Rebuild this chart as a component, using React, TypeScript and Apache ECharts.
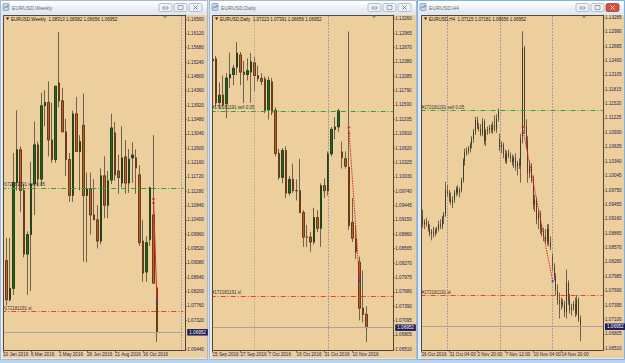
import React, { useEffect, useRef } from "react";
import * as echarts from "echarts";

// ---------------- DATA ----------------
const SYMBOL = "EURUSD";
const bidPrice = 1.06952;
const sellPrice = 1.11376;
const slPrice = 1.0759;
const ticket = "#172181191";
const lots = "0.05";

const weeklyCategories = [
  "10 Jan 2016","17 Jan 2016","24 Jan 2016","31 Jan 2016","7 Feb 2016","14 Feb 2016","21 Feb 2016","28 Feb 2016",
  "6 Mar 2016","13 Mar 2016","20 Mar 2016","27 Mar 2016","3 Apr 2016","10 Apr 2016","17 Apr 2016","24 Apr 2016",
  "1 May 2016","8 May 2016","15 May 2016","22 May 2016","29 May 2016","5 Jun 2016","12 Jun 2016","19 Jun 2016",
  "26 Jun 2016","3 Jul 2016","10 Jul 2016","17 Jul 2016","24 Jul 2016","31 Jul 2016","7 Aug 2016","14 Aug 2016",
  "21 Aug 2016","28 Aug 2016","4 Sep 2016","11 Sep 2016","18 Sep 2016","25 Sep 2016","2 Oct 2016","9 Oct 2016",
  "16 Oct 2016","23 Oct 2016","30 Oct 2016","6 Nov 2016","13 Nov 2016"
];
// [open, high, low, close]
const weeklyOHLC = [
  [1.0920,1.0993,1.0805,1.0915],[1.0915,1.0985,1.0778,1.0795],[1.0795,1.0985,1.0790,1.0830],[1.0830,1.1245,1.0810,1.1155],
  [1.1155,1.1376,1.1130,1.1255],[1.1255,1.1265,1.1065,1.1130],[1.1130,1.1150,1.0925,1.0935],[1.0935,1.1005,1.0810,1.0995],
  [1.0995,1.1218,1.0822,1.1150],[1.1150,1.1342,1.1055,1.1270],[1.1270,1.1280,1.1143,1.1165],[1.1165,1.1430,1.1145,1.1390],
  [1.1390,1.1438,1.1327,1.1400],[1.1400,1.1465,1.1235,1.1285],[1.1285,1.1399,1.1215,1.1225],[1.1225,1.1450,1.1215,1.1450],
  [1.1460,1.1616,1.1385,1.1405],[1.1405,1.1445,1.1310,1.1310],[1.1310,1.1350,1.1175,1.1225],[1.1225,1.1245,1.1095,1.1115],
  [1.1115,1.1375,1.1095,1.1365],[1.1365,1.1417,1.1250,1.1250],[1.1250,1.1300,1.1130,1.1280],[1.1330,1.1427,1.0912,1.1115],
  [1.1115,1.1185,1.0910,1.1135],[1.1135,1.1185,1.0995,1.1055],[1.1055,1.1165,1.1040,1.1040],[1.1040,1.1085,1.0952,1.0975],
  [1.0975,1.1198,1.0965,1.1175],[1.1175,1.1235,1.1045,1.1085],[1.1085,1.1190,1.1045,1.1160],[1.1162,1.1366,1.1150,1.1322],
  [1.1307,1.1340,1.1160,1.1178],[1.1190,1.1240,1.1120,1.1170],[1.1153,1.1327,1.1140,1.1230],[1.1233,1.1285,1.1120,1.1153],
  [1.1153,1.1257,1.1123,1.1226],[1.1230,1.1278,1.1154,1.1239],[1.1230,1.1256,1.1120,1.1199],[1.1178,1.1208,1.0960,1.0970],
  [1.0975,1.1040,1.0850,1.0877],[1.0880,1.0990,1.0850,1.0970],[1.0980,1.1142,1.0960,1.1138],[1.1055,1.1300,1.0845,1.0846],
  [1.08313,1.08382,1.06656,1.06952]
];
const weeklyPriceTicks = ["1.16560","1.16120","1.15680","1.15240","1.14800","1.14360","1.13920","1.13480","1.13040","1.12600","1.12160","1.11720","1.11280","1.10840","1.10400","1.09960","1.09520","1.09080","1.08640","1.08200","1.07760","1.07320","1.06440"];
const weeklySeparators = [51];
const weeklyTrade = [[43, 1.1098], [44, 1.0791]];

const dailyCategories = [
  "15 Sep 2016","16 Sep 2016","19 Sep 2016","20 Sep 2016","21 Sep 2016","22 Sep 2016","23 Sep 2016","26 Sep 2016",
  "27 Sep 2016","28 Sep 2016","29 Sep 2016","30 Sep 2016","3 Oct 2016","4 Oct 2016","5 Oct 2016","6 Oct 2016",
  "7 Oct 2016","10 Oct 2016","11 Oct 2016","12 Oct 2016","13 Oct 2016","14 Oct 2016","17 Oct 2016","18 Oct 2016",
  "19 Oct 2016","20 Oct 2016","21 Oct 2016","24 Oct 2016","25 Oct 2016","26 Oct 2016","27 Oct 2016","28 Oct 2016",
  "31 Oct 2016","1 Nov 2016","2 Nov 2016","3 Nov 2016","4 Nov 2016","7 Nov 2016","8 Nov 2016","9 Nov 2016",
  "10 Nov 2016","11 Nov 2016","14 Nov 2016","15 Nov 2016","16 Nov 2016"
];
const dailyOHLC = [
  [1.1240,1.1279,1.1200,1.1243],[1.1244,1.1250,1.1146,1.1154],[1.1155,1.1196,1.1142,1.1170],[1.1170,1.1210,1.1145,1.1150],
  [1.1152,1.1215,1.1123,1.1205],[1.1205,1.1257,1.1185,1.1212],[1.1212,1.1232,1.1190,1.1225],[1.1227,1.1278,1.1211,1.1256],
  [1.1252,1.1258,1.1190,1.1217],[1.1217,1.1240,1.1154,1.1212],[1.1212,1.1245,1.1200,1.1220],[1.1217,1.1256,1.1154,1.1238],
  [1.1236,1.1248,1.1178,1.1210],[1.1210,1.1230,1.1198,1.1204],[1.1204,1.1215,1.1190,1.1198],[1.1203,1.1208,1.1133,1.1139],
  [1.1140,1.1208,1.1120,1.1200],[1.1197,1.1205,1.1129,1.1135],[1.1139,1.1145,1.1045,1.1051],[1.1051,1.1060,1.0997,1.1002],
  [1.1002,1.1062,1.0990,1.1057],[1.1057,1.1065,1.0960,1.0970],[1.0970,1.1005,1.0965,1.0998],[1.0998,1.1030,1.0970,1.0975],
  [1.0975,1.0998,1.0955,1.0975],[1.0975,1.1040,1.0930,1.0930],[1.0930,1.0935,1.0860,1.0880],[1.0880,1.0905,1.0860,1.0880],
  [1.0880,1.0890,1.0850,1.0870],[1.0870,1.0940,1.0865,1.0920],[1.0920,1.0935,1.0890,1.0898],[1.0898,1.0990,1.0860,1.0985],
  [1.0985,1.1000,1.0960,1.0975],[1.0975,1.1055,1.0965,1.1050],[1.1050,1.1105,1.1045,1.1100],[1.1100,1.1125,1.1080,1.1105],
  [1.1105,1.1142,1.1095,1.1138],[1.1054,1.1075,1.1020,1.1042],[1.1040,1.1055,1.1020,1.1025],[1.1023,1.1300,1.0895,1.0904],
  [1.0910,1.0960,1.0870,1.0878],[1.0876,1.0905,1.0835,1.0850],[1.0829,1.0840,1.0710,1.0735],[1.0735,1.0812,1.0706,1.0722],
  [1.07223,1.07391,1.06656,1.06952]
];
const dailyPriceTicks = ["1.13260","1.12965","1.12670","1.12380","1.12085","1.11790","1.11500","1.11205","1.10910","1.10620","1.10325","1.10030","1.09740","1.09445","1.09150","1.08860","1.08565","1.08270","1.07975","1.07680","1.07390","1.07095","1.06805","1.06510"];
const dailySeparators = [12, 33];
const dailyTrade = [[39, 1.1098], [42, 1.0791]];

const h4Days = ["26 Oct","27 Oct","28 Oct","31 Oct","1 Nov","2 Nov","3 Nov","4 Nov","7 Nov","8 Nov","9 Nov","10 Nov","11 Nov","14 Nov","15 Nov","16 Nov"];
const h4Hours = ["00:00","04:00","08:00","12:00","16:00","20:00"];
const h4FirstLabel = "26 Oct 2016";
const h4OHLC = [
  [1.0915,1.0925,1.0905,1.0920],[1.0920,1.0935,1.0898,1.0905],[1.0905,1.0915,1.0895,1.0910],[1.0910,1.0918,1.0900,1.0905],
  [1.0905,1.0912,1.0890,1.0895],[1.0895,1.0905,1.0880,1.0885],[1.0885,1.0895,1.0872,1.0890],[1.0890,1.0900,1.0878,1.0885],
  [1.0885,1.0897,1.0880,1.0892],[1.0892,1.0900,1.0886,1.0895],[1.0895,1.0912,1.0890,1.0905],[1.0905,1.0915,1.0895,1.0900],
  [1.0900,1.0922,1.0895,1.0918],[1.0918,1.0930,1.0905,1.0925],[1.0925,1.0992,1.0920,1.0975],[1.0975,1.0985,1.0962,1.0968],
  [1.0968,1.0975,1.0950,1.0958],[1.0958,1.0970,1.0945,1.0950],[1.0950,1.0962,1.0938,1.0955],[1.0955,1.0975,1.0948,1.0970],
  [1.0970,1.0982,1.0962,1.0978],[1.0978,1.0985,1.0965,1.0970],[1.0970,1.0980,1.0960,1.0975],[1.0975,1.1000,1.0970,1.0995],
  [1.0995,1.1040,1.0990,1.1035],[1.1035,1.1060,1.1025,1.1052],[1.1052,1.1062,1.1045,1.1055],[1.1055,1.1065,1.1048,1.1060],
  [1.1060,1.1072,1.1052,1.1068],[1.1068,1.1085,1.1060,1.1080],[1.1080,1.1100,1.1072,1.1095],[1.1095,1.1125,1.1088,1.1118],
  [1.1118,1.1125,1.1100,1.1105],[1.1105,1.1112,1.1095,1.1100],[1.1100,1.1110,1.1085,1.1090],[1.1090,1.1122,1.1085,1.1115],
  [1.1115,1.1120,1.1068,1.1075],[1.1075,1.1100,1.1065,1.1095],[1.1095,1.1105,1.1088,1.1098],[1.1098,1.1108,1.1090,1.1102],
  [1.1102,1.1110,1.1092,1.1098],[1.1098,1.1115,1.1090,1.1108],[1.1108,1.1128,1.1095,1.1100],[1.1100,1.1130,1.1092,1.1122],
  [1.1122,1.1142,1.1115,1.1138],[1.1080,1.1090,1.1055,1.1062],[1.1062,1.1075,1.1050,1.1068],[1.1068,1.1072,1.1040,1.1048],
  [1.1048,1.1058,1.1030,1.1035],[1.1035,1.1055,1.1028,1.1050],[1.1050,1.1058,1.1040,1.1045],[1.1045,1.1052,1.1032,1.1040],
  [1.1040,1.1048,1.1025,1.1032],[1.1032,1.1045,1.1020,1.1040],[1.1040,1.1050,1.1015,1.1022],[1.1022,1.1035,1.1005,1.1030],
  [1.1030,1.1040,1.1018,1.1025],[1.1025,1.1090,1.0990,1.1080],[1.1085,1.1300,1.1070,1.1265],[1.1265,1.1270,1.1090,1.1105],
  [1.1105,1.1120,1.1060,1.1075],[1.1075,1.1085,1.0990,1.1010],[1.1010,1.1035,1.1000,1.1025],[1.1025,1.1030,1.0990,1.0998],
  [1.0998,1.1005,1.0935,1.0945],[1.0945,1.0965,1.0930,1.0955],[1.0955,1.0960,1.0905,1.0915],[1.0915,1.0935,1.0895,1.0925],
  [1.0925,1.0932,1.0885,1.0895],[1.0895,1.0905,1.0880,1.0890],[1.0890,1.0898,1.0870,1.0880],[1.0880,1.0895,1.0865,1.0870],
  [1.0870,1.0905,1.0862,1.0895],[1.0895,1.0905,1.0860,1.0868],[1.0868,1.0880,1.0852,1.0858],[1.0840,1.0845,1.0810,1.0818],
  [1.0818,1.0825,1.0790,1.0798],[1.0798,1.0805,1.0760,1.0770],[1.0770,1.0782,1.0740,1.0750],[1.0750,1.0765,1.0712,1.0742],
  [1.0742,1.0755,1.0730,1.0745],[1.0745,1.0752,1.0735,1.0740],[1.0740,1.0748,1.0715,1.0725],[1.0725,1.0812,1.0712,1.0785],
  [1.0785,1.0790,1.0740,1.0750],[1.0750,1.0762,1.0722,1.0730],[1.0730,1.0742,1.0718,1.0735],[1.0735,1.0748,1.0728,1.0742],
  [1.0742,1.0755,1.0715,1.0722],[1.0722,1.0760,1.0718,1.0750],[1.0750,1.0755,1.0705,1.07115],[1.07115,1.07181,1.06656,1.06952]
];
const h4Categories = h4Days.flatMap((d) => h4Hours.map((h) => `${d} ${h}`)).slice(3, 3 + h4OHLC.length);
const h4PriceTicks = ["1.13285","1.12990","1.12695","1.12400","1.12105","1.11815","1.11520","1.11225","1.10930","1.10635","1.10340","1.10045","1.09750","1.09455","1.09160","1.08865","1.08570","1.08280","1.07985","1.07690","1.07395","1.07100","1.06805","1.06510"];
const h4Separators = [15, 45, 75];
const h4Trade = [[58, 1.1098], [75, 1.0788]];

// ---------------- STYLE ----------------
const FONT = "Liberation Sans, Arial, sans-serif";
const TAN = "#EDCF9E";
const BULL = "#1C6B1C";
const BULL_B = "#0D2B0D";
const BEAR = "#B5612B";
const BEAR_B = "#4B2209";
const WICK = "#6F6350";
const AXIS = "#4F4636";
const LABEL = "#22224A";

type Panel = {
  title: string;
  cats: string[];
  ohlc: number[][];
  ticks: string[];
  slots: number;
  labelEvery: number;
  firstLabel?: string;
  grid: { left: number; top: number; width: number; height: number };
  yMin: number;
  yMax: number;
  bodyW: number;
  axisOffset: number;
  separators: number[];
  sepColors: string[];
  trade: number[][];
  win: { x0: number; x1: number; plotL: number; plotR: number; shiftX: number; active: boolean };
};

const panels: Panel[] = [
  {
    title: `${SYMBOL},Weekly`, cats: weeklyCategories, ohlc: weeklyOHLC, ticks: weeklyPriceTicks, slots: 52, labelEvery: 8,
    grid: { left: 1.25, top: 15, width: 182, height: 335.5 },
    yMin: 1.06394, yMax: 1.166827, bodyW: 2.3, axisOffset: 2,
    separators: weeklySeparators, sepColors: ["#6B63A8"], trade: weeklyTrade,
    win: { x0: 0, x1: 208, plotL: 3, plotR: 185.3, shiftX: 165, active: false },
  },
  {
    title: `${SYMBOL},Daily`, cats: dailyCategories, ohlc: dailyOHLC, ticks: dailyPriceTicks, slots: 52, labelEvery: 8,
    grid: { left: 210.75, top: 15, width: 182, height: 335.5 },
    yMin: 1.064855, yMax: 1.133355, bodyW: 2.4, axisOffset: 0.5,
    separators: dailySeparators, sepColors: ["#9C968C", "#6B63A8"], trade: dailyTrade,
    win: { x0: 209, x1: 417, plotL: 212, plotR: 393.3, shiftX: 374, active: false },
  },
  {
    title: `${SYMBOL},H4`, cats: h4Categories, ohlc: h4OHLC, ticks: h4PriceTicks, slots: 104, labelEvery: 16, firstLabel: h4FirstLabel,
    grid: { left: 420.6, top: 15, width: 182, height: 335.5 },
    yMin: 1.06465, yMax: 1.133321, bodyW: 1.2, axisOffset: 0.4,
    separators: h4Separators, sepColors: ["#6B63A8", "#6B63A8", "#6B63A8"], trade: h4Trade,
    win: { x0: 417, x1: 625, plotL: 421, plotR: 603, shiftX: 584, active: true },
  },
];

function fmt(v: number) {
  return v.toFixed(5);
}

function buildOption() {
  const grids: any[] = [];
  const xAxes: any[] = [];
  const yAxes: any[] = [];
  const series: any[] = [];
  const graphics: any[] = [];

  graphics.push({ type: "rect", shape: { x: 0, y: 0, width: 625, height: 363 }, style: { fill: "#D3DDE9" }, z: -20, silent: true });

  panels.forEach((p, g) => {
    const n = p.ohlc.length;
    const cats = p.cats.slice(0, n).concat(Array.from({ length: p.slots - n }, (_, i) => `pad${i}`));
    grids.push({ ...p.grid, containLabel: false });
    xAxes.push({
      type: "category", gridIndex: g, data: cats, boundaryGap: true,
      axisLine: { show: false },
      axisTick: { show: true, alignWithLabel: true, length: 2, lineStyle: { color: AXIS, width: 0.8 }, interval: (i: number) => i % p.labelEvery === 0 && i < n },
      axisLabel: {
        show: true, interval: (i: number) => i % p.labelEvery === 0 && i < n, align: "left", margin: 1.5,
        fontSize: 4.6, fontFamily: FONT, color: LABEL,
        formatter: (v: string, i: number) => (i === 0 && p.firstLabel ? p.firstLabel : v),
      },
      splitLine: { show: false },
    });
    const tickVals = p.ticks.map((t) => parseFloat(t));
    yAxes.push({
      type: "value", gridIndex: g, position: "right", min: p.yMin, max: p.yMax, offset: p.axisOffset,
      axisLine: { show: true, lineStyle: { color: AXIS, width: 1 } },
      axisTick: { show: true, length: 1.5, lineStyle: { color: AXIS, width: 0.8 }, customValues: tickVals },
      axisLabel: { show: true, margin: 2, fontSize: 4.6, fontFamily: FONT, color: LABEL, customValues: tickVals, formatter: (v: number) => fmt(v) },
      splitLine: { show: false },
    });

    const wick = p.ohlc.map(([o, h, l, c]) => [o, c, l, h]);
    const body = p.ohlc.map(([o, , , c]) => [o, c, Math.min(o, c), Math.max(o, c)]);
    const ls = (color: string) => ({ color, width: 1, type: [5, 2, 1, 2] });
    series.push({
      type: "candlestick", xAxisIndex: g, yAxisIndex: g, data: wick, barWidth: p.bodyW, z: 2,
      itemStyle: { color: "rgba(0,0,0,0)", color0: "rgba(0,0,0,0)", borderColor: WICK, borderColor0: WICK, borderColorDoji: WICK, borderWidth: 1 },
      markLine: {
        silent: true, symbol: ["none", "none"], animation: false, precision: 5,
        data: [
          ...p.separators.map((s, k) => ({ xAxis: s, lineStyle: { color: p.sepColors[k], width: 1, type: [1, 2] }, label: { show: false } })),
          { yAxis: bidPrice, lineStyle: { color: "#A9A49A", width: 1, type: "solid" },
            label: { show: true, position: "end", distance: 2 + p.axisOffset, formatter: fmt(bidPrice), color: "#FFFFFF", backgroundColor: "#1D1D58", padding: [1, 2, 0.5, 2], fontSize: 4.6, fontFamily: FONT } },
          { yAxis: sellPrice, lineStyle: ls("#2EA52E"),
            label: { show: true, position: "insideStartTop", distance: [1, 1], formatter: `${ticket} sell ${lots}`, color: "#333333", fontSize: 4.5, fontFamily: FONT } },
          { yAxis: slPrice, lineStyle: ls("#F23E1C"),
            label: { show: true, position: "insideStartTop", distance: [1, 1], formatter: `${ticket} sl`, color: "#333333", fontSize: 4.5, fontFamily: FONT } },
        ],
      },
    });
    series.push({
      type: "candlestick", xAxisIndex: g, yAxisIndex: g, data: body, barWidth: p.bodyW, z: 3,
      itemStyle: { color: BULL, color0: BEAR, borderColor: BULL_B, borderColor0: BEAR_B, borderColorDoji: BEAR_B, borderWidth: 0.6 },
    });
    series.push({
      type: "line", xAxisIndex: g, yAxisIndex: g, data: p.trade, symbol: "none", z: 4,
      lineStyle: { color: "#E02020", width: 1, type: g === 0 ? "solid" : [1.5, 1] },
    });
    series.push({
      type: "scatter", xAxisIndex: g, yAxisIndex: g, z: 5, symbol: "rect", symbolSize: [2.6, 1.8],
      data: [[p.trade[0][0], p.trade[0][1] + 0.0006], [p.trade[0][0], p.trade[0][1] - 0.0006]],
      itemStyle: { color: "#E51B1B" },
    });
    series.push({
      type: "scatter", xAxisIndex: g, yAxisIndex: g, z: 5, symbol: "rect", symbolSize: [2.2, 2.2],
      data: [p.trade[1]], itemStyle: { color: "#2F3DE0" },
    });

    // ---- window chrome ----
    const w = p.win;
    const grad = { type: "linear", x: 0, y: 0, x2: 0, y2: 1, colorStops: [{ offset: 0, color: "#FFFFFF" }, { offset: 1, color: "#DCE5F0" }] };
    graphics.push(
      { type: "rect", shape: { x: w.x0 + 0.5, y: 0.5, width: w.x1 - w.x0 - 1, height: 359 }, style: { fill: "#E3EAF3", stroke: w.active ? "#7DB3E3" : "#A9B8CA", lineWidth: 1 }, z: -10, silent: true },
      { type: "rect", shape: { x: w.x0 + 1, y: 1, width: w.x1 - w.x0 - 2, height: 13 }, style: { fill: grad }, z: -9, silent: true },
      { type: "rect", shape: { x: w.plotL, y: 15, width: w.x1 - 1 - w.plotL, height: 343 }, style: { fill: TAN }, z: -8, silent: true },
      { type: "rect", shape: { x: w.x0 + 3, y: 3.5, width: 6, height: 7, r: 1 }, style: { fill: "#C9D7E6", stroke: "#6E8FB4", lineWidth: 0.7 }, z: 10, silent: true },
      { type: "polyline", shape: { points: [[w.x0 + 4, 8.5], [w.x0 + 5.5, 6.5], [w.x0 + 7, 7.5], [w.x0 + 8.3, 5]] }, style: { stroke: "#2E6DB0", lineWidth: 0.7, fill: null }, z: 10, silent: true },
      { type: "text", x: w.x0 + 12, y: 7.8, style: { text: p.title, fontSize: 5.2, fontFamily: FONT, fill: "#6C6C6C", verticalAlign: "middle" }, z: 10, silent: true },
    );
    [w.x1 - 49, w.x1 - 34, w.x1 - 19].forEach((bx, k) => {
      const isClose = k === 2 && w.active;
      graphics.push({ type: "rect", shape: { x: bx, y: 3.5, width: 13, height: 8, r: 1.5 }, style: { fill: isClose ? "#D6503C" : "#EEF2F7", stroke: isClose ? "#9E3626" : "#98A9BC", lineWidth: 0.7 }, z: 10, silent: true });
      if (k === 0) graphics.push({ type: "rect", shape: { x: bx + 4, y: 7, width: 5, height: 2 }, style: { fill: null, stroke: "#5E6E80", lineWidth: 0.6 }, z: 11, silent: true });
      if (k === 1) graphics.push({ type: "rect", shape: { x: bx + 4, y: 5.5, width: 5, height: 4 }, style: { fill: null, stroke: "#5E6E80", lineWidth: 0.6 }, z: 11, silent: true });
      if (k === 2) graphics.push(
        { type: "line", shape: { x1: bx + 4.5, y1: 5.5, x2: bx + 8.5, y2: 9.5 }, style: { stroke: isClose ? "#FFFFFF" : "#5E6E80", lineWidth: 0.8 }, z: 11, silent: true },
        { type: "line", shape: { x1: bx + 8.5, y1: 5.5, x2: bx + 4.5, y2: 9.5 }, style: { stroke: isClose ? "#FFFFFF" : "#5E6E80", lineWidth: 0.8 }, z: 11, silent: true },
      );
    });
    graphics.push(
      { type: "rect", shape: { x: w.x0 + 1, y: 15, width: w.plotL - w.x0 - 1, height: 344 }, style: { fill: "#E3EAF3" }, z: 12, silent: true },
      { type: "polyline", shape: { points: [[w.plotR, 15.5], [w.plotL + 0.5, 15.5], [w.plotL + 0.5, 350.5], [w.plotR, 350.5]] }, style: { stroke: AXIS, lineWidth: 1, fill: null }, z: 12, silent: true },
      { type: "polygon", shape: { points: [[w.plotL + 3, 17.6], [w.plotL + 6.2, 17.6], [w.plotL + 4.6, 20]] }, style: { fill: "#1A1A1A" }, z: 12, silent: true },
      { type: "polygon", shape: { points: [[w.shiftX - 2, 16], [w.shiftX + 2, 16], [w.shiftX, 18.5]] }, style: { fill: "#8C8C8C" }, z: 12, silent: true },
    );
    const last = p.ohlc[n - 1];
    graphics.push({
      type: "text", x: w.plotL + 8, y: 19, z: 12, silent: true,
      style: { text: `${p.title}  ${last.map(fmt).join(" ")}`, fontSize: 4.5, fontFamily: FONT, fill: "#141414", verticalAlign: "middle" },
    });
  });

  graphics.push({ type: "rect", shape: { x: 0, y: 360, width: 625, height: 3 }, style: { fill: "#B9D4EC" }, z: 12, silent: true });

  return { animation: false, grid: grids, xAxis: xAxes, yAxis: yAxes, series, graphic: graphics };
}

export default function App() {
  const ref = useRef<HTMLDivElement>(null);
  useEffect(() => {
    if (!ref.current) return;
    const chart = echarts.init(ref.current, null, { renderer: "svg" });
    chart.setOption(buildOption() as any);
    return () => chart.dispose();
  }, []);
  return <div ref={ref} style={{ width: 625, height: 363, position: "absolute", left: 0, top: 0 }} />;
}
